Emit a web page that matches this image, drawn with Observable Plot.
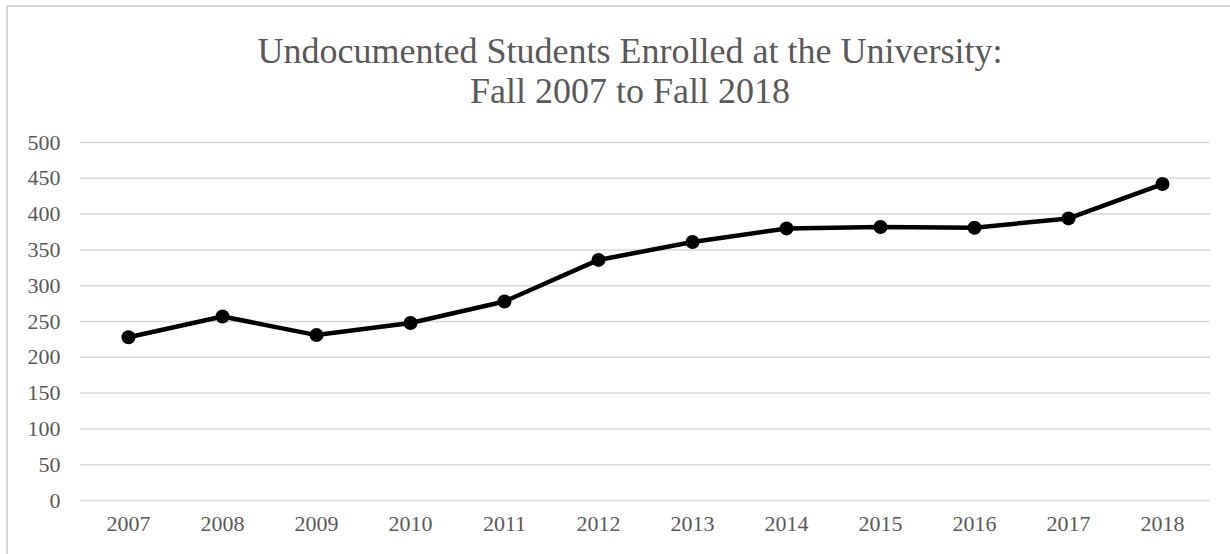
<!DOCTYPE html>
<html>
<head>
<meta charset="utf-8">
<script src="https://cdn.jsdelivr.net/npm/d3@7"></script>
<script src="https://cdn.jsdelivr.net/npm/@observablehq/plot@0.6"></script>
<style>
  html, body { margin: 0; padding: 0; background: #fff; }
  #wrap { position: relative; width: 1230px; height: 554px; overflow: hidden; font-family: "Liberation Serif", "Times New Roman", serif; }
  #frame { position: absolute; left: 6px; top: 5px; width: 1300px; height: 600px; border-left: 2px solid #d9d9d9; border-top: 2px solid #d9d9d9; box-sizing: border-box; }
  #title { position: relative; height: 120px; text-align: center; color: #595959; font-size: 36px; line-height: 40px; padding-top: 31px; padding-left: 30px; box-sizing: border-box; }
  #chart { position: relative; }
  #chart svg { display: block; }
</style>
</head>
<body>
<div id="wrap">
  <div id="frame"></div>
  <div id="title">Undocumented Students Enrolled at the University:<br>Fall 2007 to Fall 2018</div>
  <div id="chart"></div>
</div>
<script>
const years = ["2007","2008","2009","2010","2011","2012","2013","2014","2015","2016","2017","2018"];
const students = [228, 257, 231, 248, 278, 336, 361, 380, 382, 381, 394, 442];
const yTicks = [0, 50, 100, 150, 200, 250, 300, 350, 400, 450, 500];

const data = years.map((y, i) => ({year: y, value: students[i]}));

const chart = Plot.plot({
  width: 1230,
  height: 434,
  marginLeft: 80,
  marginRight: 20,
  marginTop: 22,
  marginBottom: 54,
  style: {fontFamily: "'Liberation Serif', 'Times New Roman', serif", fontSize: "22px", color: "#595959", background: "transparent"},
  x: {type: "point", domain: years, padding: 0.5, label: null},
  y: {domain: [0, 500], ticks: yTicks, label: null},
  marks: [
    Plot.gridY(yTicks, {stroke: "#d9d9d9", strokeOpacity: 1, strokeWidth: 1.5}),
    Plot.axisY(yTicks, {tickSize: 0, tickPadding: 20, fill: "#595959", fontSize: 22}),
    Plot.axisX(years, {tickSize: 0, tickPadding: 15, fill: "#595959", fontSize: 22}),
    Plot.line(data, {x: "year", y: "value", stroke: "#000", strokeWidth: 4.5}),
    Plot.dot(data, {x: "year", y: "value", fill: "#000", r: 7})
  ]
});
document.getElementById("chart").appendChild(chart);
</script>
</body>
</html>
